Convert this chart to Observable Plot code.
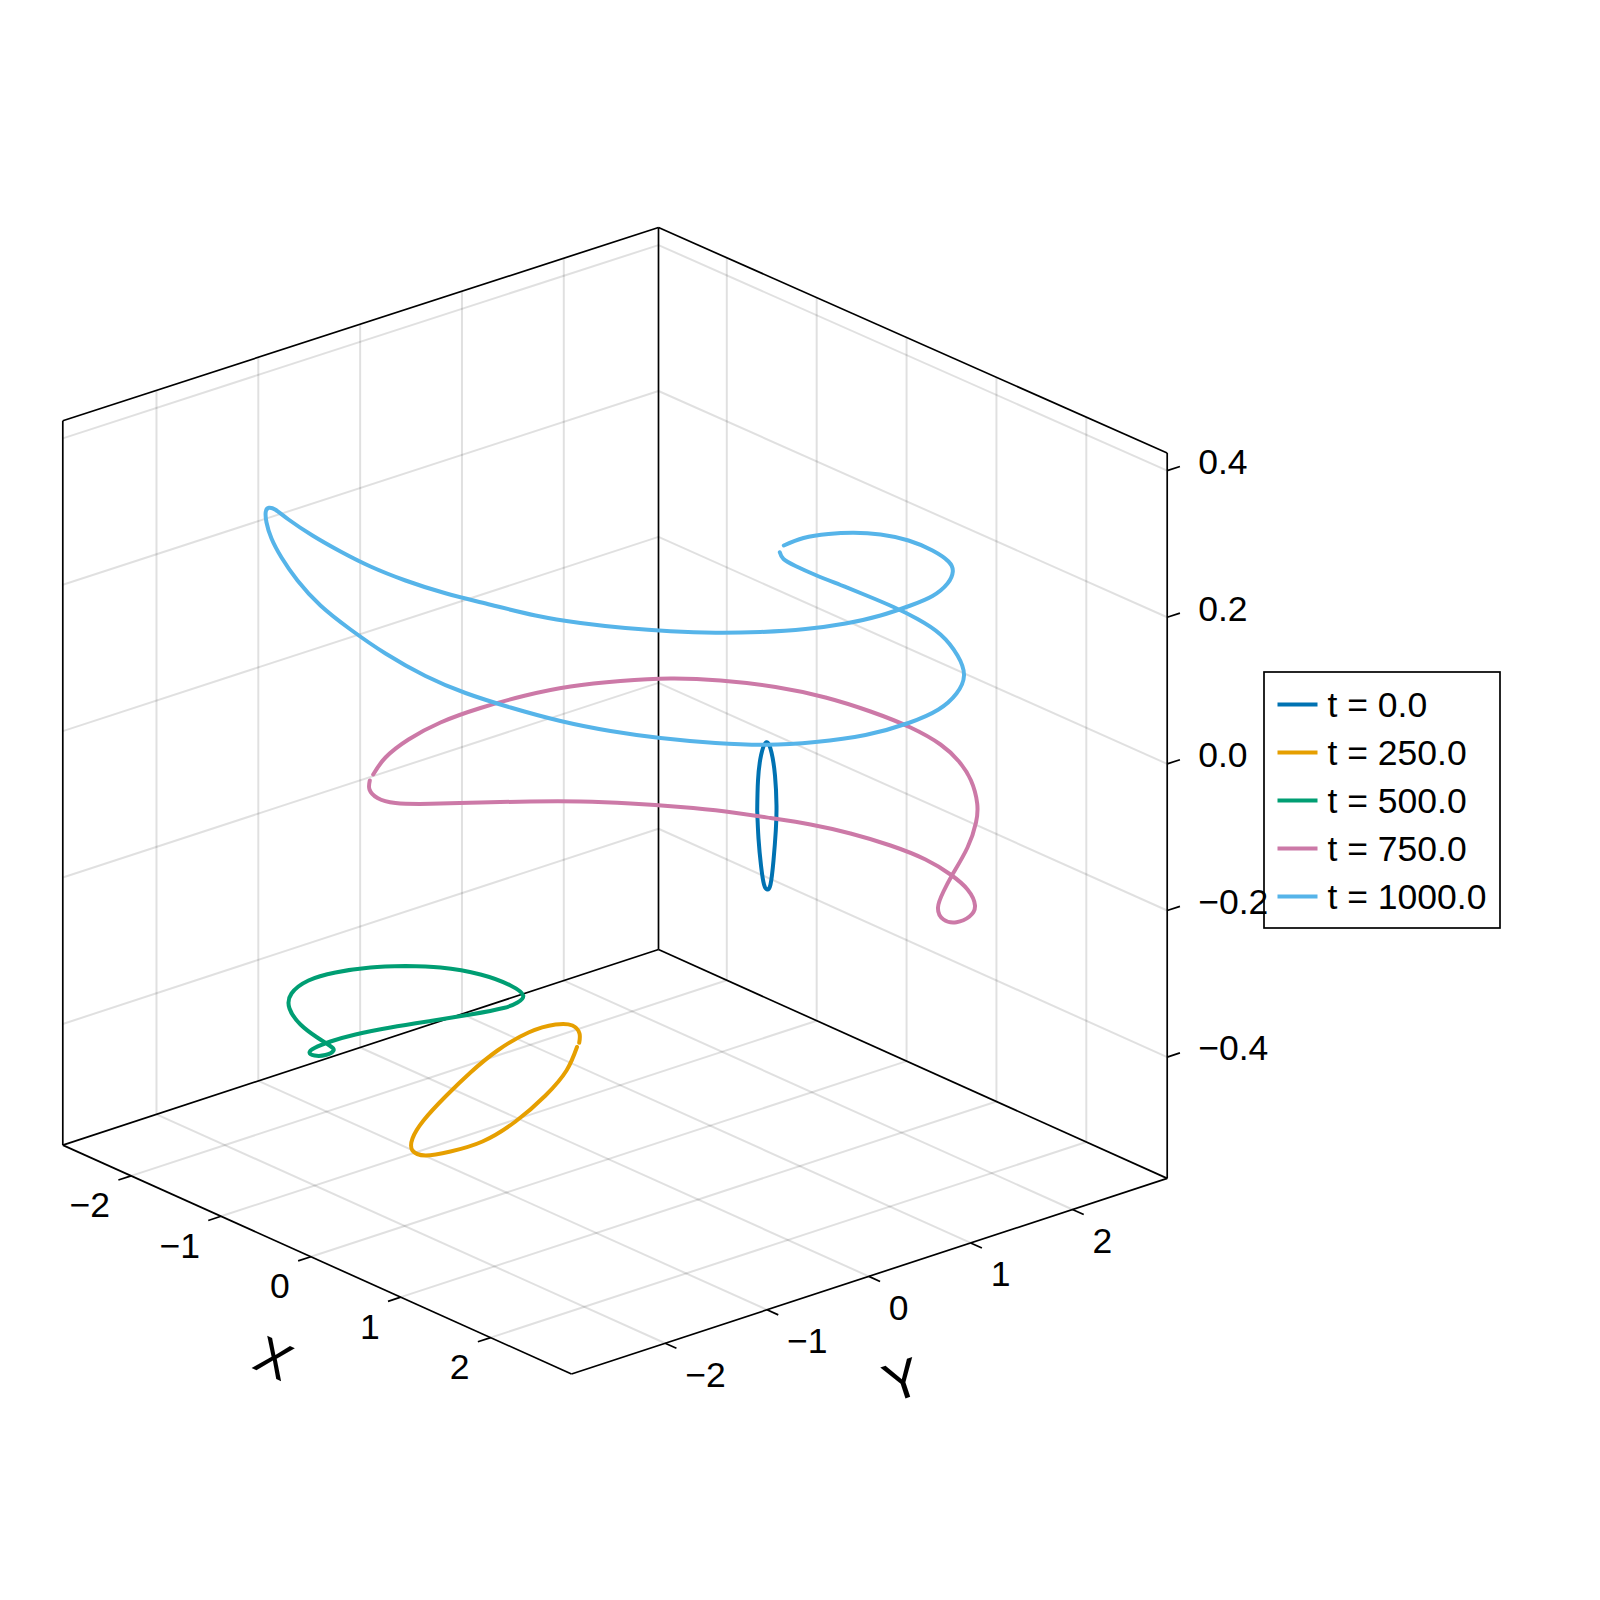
<!DOCTYPE html>
<html>
<head>
<meta charset="utf-8">
<style>html,body{margin:0;padding:0;background:#fff}svg{display:block}</style>
<script src="https://cdn.jsdelivr.net/npm/d3@7"></script>
<script src="https://cdn.jsdelivr.net/npm/@observablehq/plot@0.6"></script>
</head>
<body>
<div id="chart"></div>
<script>
// Axis ticks and ranges
const xTicks = [-2, -1, 0, 1, 2];
const yTicks = [-2, -1, 0, 1, 2];
const zTicks = [-0.4, -0.2, 0.0, 0.2, 0.4];
const xRange = [-2.76, 2.90];
const yRange = [-2.92, 2.93];
const zRange = [-0.5655, 0.4241];
const xLabels = ["−2", "−1", "0", "1", "2"];
const yLabels = ["−2", "−1", "0", "1", "2"];
const zLabels = ["−0.4", "−0.2", "0.0", "0.2", "0.4"];

// Legend
const seriesNames = ["t = 0.0", "t = 250.0", "t = 500.0", "t = 750.0", "t = 1000.0"];
const seriesColors = ["#0072B2", "#E69F00", "#009E73", "#CC79A7", "#56B4E9"];

// The curves, in the plane of the 3D view
const curve0 = [[756.7,810],[758,838],[760.5,865],[763.5,884],[766.7,889],[770,884],[773,860],[775.3,830],[776,805],[774.5,775],[771,752],[766,741.7],[760.5,755],[757.5,780],[756.7,810]];
const curve250 = [[576.5,1046.5],[566,1070],[545,1095],[515,1121],[482,1141],[450,1151],[425,1155],[412,1150],[412,1138],[423,1120],[445,1096],[470,1072],[497,1050],[528,1032],[555,1024],[572,1025],[579,1033],[578.7,1042.3]];
const curve500 = [[405,965.5],[370,967],[335,972],[308,980],[291,993],[289,1008],[300,1024],[316,1036.5],[329,1045],[333,1050],[325,1054.5],[314,1055],[309,1052],[314,1047.5],[330,1041],[355,1034],[390,1027],[430,1020.5],[470,1014],[503,1007.5],[517,1002],[522.7,995],[510,985],[480,974],[440,967],[405,965.5]];
const curve750 = [[372.7,774],[385,757],[408,739],[440,722],[480,707.5],[525,695],[570,686],[620,680.5],[670,678],[720,680],[775,686.5],[825,697],[870,711],[910,727],[940,744],[958,760.5],[970.5,780],[976.7,803],[975.5,822],[967,847],[952,874],[943,891],[937.5,907],[943,919],[956,921.7],[969,916],[974.5,905],[967,889],[950,874],[925,859],[890,845],[850,833],[810,824],[770,817.5],[725,811],[680,806.5],[630,803],[580,801],[530,801],[480,802],[430,803.3],[395,802.5],[377,797.5],[369,789],[369.3,780]];
const curve1000 = [[783.3,545],[803,537.5],[828,533.5],[853,532.3],[880,534],[908,540],[932,550],[948,561],[952.3,571],[947,583],[932,595.5],[910,605],[880,615],[845,623],[805,628.5],[760,631.5],[715,632.3],[670,630.8],[625,627.5],[580,622.5],[535,615],[490,604.2],[445,592.8],[405,580],[370,566],[340,551],[312,535],[288,519],[275,509.3],[268.5,507.3],[265.3,511],[266,522],[271,538],[281,557],[297,580],[320,605],[350,629],[385,653],[425,675.5],[465,692.5],[510,707],[560,720.5],[610,730.5],[660,737.5],[715,742.5],[766,744.3],[815,741.5],[865,734.5],[908,722.5],[938,709],[956,693],[963.5,675],[957,655],[940,634],[917,618.5],[893,606.5],[866,595],[840,584.5],[815,574.5],[795,565.5],[783,558.5],[779.3,551.7]];
const curves = [curve0, curve250, curve500, curve750, curve1000];

// View of the box: where three of its corners fall in that plane, and its height at the back, left and right
const leftCorner = [62.3, 1144.6];
const frontCorner = [571, 1373.5];
const backCorner = [658, 949];
const boxHeightBack = 722, boxHeightLeftExtra = 2.4, boxHeightRightExtra = 3.4;

function project(X, Y, Z) {
  const a = (X - xRange[0]) / (xRange[1] - xRange[0]);
  const b = (Y - yRange[0]) / (yRange[1] - yRange[0]);
  const c = (Z - zRange[0]) / (zRange[1] - zRange[0]);
  const h = boxHeightBack + boxHeightLeftExtra * (1 - b) + boxHeightRightExtra * a;
  return [
    leftCorner[0] + a * (frontCorner[0] - leftCorner[0]) + b * (backCorner[0] - leftCorner[0]),
    leftCorner[1] + a * (frontCorner[1] - leftCorner[1]) + b * (backCorner[1] - leftCorner[1]) - c * h
  ];
}
const seg = (p, q) => ({x1: p[0], y1: p[1], x2: q[0], y2: q[1]});
const [x0, x1] = xRange, [y0, y1] = yRange, [z0, z1] = zRange;

const grid = [
  ...xTicks.flatMap(t => [seg(project(t, y0, z0), project(t, y1, z0)), seg(project(t, y1, z0), project(t, y1, z1))]),
  ...yTicks.flatMap(t => [seg(project(x0, t, z0), project(x1, t, z0)), seg(project(x0, t, z0), project(x0, t, z1))]),
  ...zTicks.flatMap(t => [seg(project(x0, y0, t), project(x0, y1, t)), seg(project(x0, y1, t), project(x1, y1, t))])
];
const frame = [
  [[x0,y0,z0],[x1,y0,z0]], [[x1,y0,z0],[x1,y1,z0]], [[x0,y0,z0],[x0,y1,z0]], [[x0,y1,z0],[x1,y1,z0]],
  [[x0,y0,z1],[x0,y1,z1]], [[x0,y1,z1],[x1,y1,z1]],
  [[x0,y0,z0],[x0,y0,z1]], [[x0,y1,z0],[x0,y1,z1]], [[x1,y1,z0],[x1,y1,z1]]
].map(([p, q]) => seg(project(...p), project(...q)));
const tickLen = 0.125;
const tickMarks = [
  ...xTicks.map(t => seg(project(t, y0, z0), project(t, y0 - tickLen, z0))),
  ...yTicks.map(t => seg(project(x1, t, z0), project(x1 + tickLen, t, z0))),
  ...zTicks.map(t => seg(project(x1, y1, t), project(x1, y1 + tickLen, t)))
];
const xLabelData = xTicks.map((t, i) => ({p: project(t, y0, z0), s: xLabels[i]}));
const yLabelData = yTicks.map((t, i) => ({p: project(x1, t, z0), s: yLabels[i]}));
const zLabelData = zTicks.map((t, i) => ({p: project(x1, y1, t), s: zLabels[i]}));

// Legend layout
const legendBox = [{x1: 1264, x2: 1500, y1: 672, y2: 928}];
const legendRows = seriesNames.map((s, i) => ({s, c: seriesColors[i], y: 704 + i * 48}));

const font = "'Liberation Sans', Arial, Helvetica, sans-serif";
const tickFont = 35.5;
const px = d => d.p[0], py = d => d.p[1], txt = d => d.s;
const link = (data, o) => Plot.link(data, {x1: "x1", y1: "y1", x2: "x2", y2: "y2", ...o});

const marks = [
  link(grid, {stroke: "#000", strokeOpacity: 0.12, strokeWidth: 2}),
  link(frame, {stroke: "#000", strokeWidth: 1.7}),
  link(tickMarks, {stroke: "#000", strokeWidth: 1.7}),
  ...curves.map((c, i) => Plot.line(c, {x: d => d[0], y: d => d[1], stroke: seriesColors[i], strokeWidth: 4, curve: "natural"})),
  Plot.rect(legendBox, {x1: "x1", x2: "x2", y1: "y1", y2: "y2", fill: "#fff", stroke: "#000", strokeWidth: 1.7}),
  link(legendRows.map(r => ({x1: 1277, x2: 1317, y1: r.y, y2: r.y, c: r.c})), {stroke: d => d.c, strokeWidth: 4}),
  Plot.text(legendRows, {x: 1327, y: d => d.y, text: d => d.s, textAnchor: "start", lineAnchor: "middle", fontSize: tickFont, fontFamily: font, fill: "#000", dy: 1}),
  Plot.text(xLabelData, {x: px, y: py, text: txt, textAnchor: "end", lineAnchor: "middle", dx: -21, dy: 30, fontSize: tickFont, fontFamily: font, fill: "#000"}),
  Plot.text(yLabelData, {x: px, y: py, text: txt, textAnchor: "start", lineAnchor: "middle", dx: 20, dy: 32, fontSize: tickFont, fontFamily: font, fill: "#000"}),
  Plot.text(zLabelData, {x: px, y: py, text: txt, textAnchor: "start", lineAnchor: "middle", dx: 31, dy: -8, fontSize: tickFont, fontFamily: font, fill: "#000"}),
  Plot.text([{p: project((x0 + x1) / 2, y0, z0), s: "X"}], {x: px, y: py, text: txt, rotate: 24.3, textAnchor: "middle", lineAnchor: "middle", dx: -44, dy: 100, fontSize: 52, fontFamily: font, fill: "#000"}),
  Plot.text([{p: project(x1, (y0 + y1) / 2, z0), s: "Y"}], {x: px, y: py, text: txt, rotate: -18.2, textAnchor: "middle", lineAnchor: "middle", dx: 33, dy: 105, fontSize: 54, fontFamily: font, fill: "#000"})
];

const chart = Plot.plot({
  width: 1600, height: 1600,
  margin: 0,
  x: {domain: [0, 1600], axis: null},
  y: {domain: [1600, 0], axis: null},
  style: {background: "#fff", overflow: "hidden"},
  marks
});
document.getElementById("chart").append(chart);
</script>
</body>
</html>
